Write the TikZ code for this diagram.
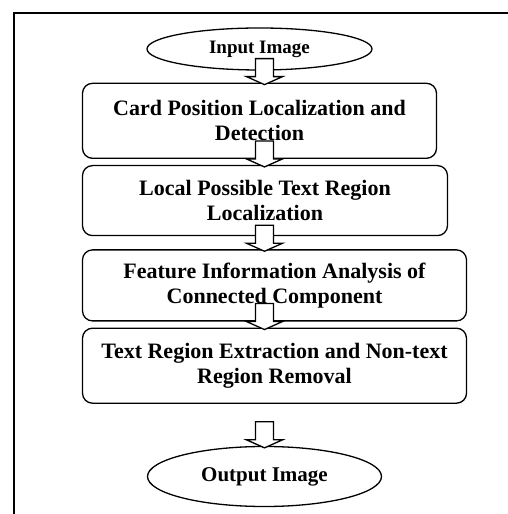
\documentclass[tikz,border=0pt]{standalone}
\usepackage{fontspec}
\setmainfont{Liberation Serif}
\usetikzlibrary{shapes.geometric, positioning, calc}

% hollow block arrow, tip just inside the node it points at
\newcommand{\flowarrow}[1]{%
  \draw[flow] ($(#1.north -| output)+(0,-2)$) coordinate (tip)
    -- ++(18,8) -- ++(-9,0) -- ++(0,18) -- ++(-18,0) -- ++(0,-18) -- ++(-9,0) -- cycle;}

\begin{document}
\begin{tikzpicture}[x=1pt, y=1pt, node distance=6pt,
    stepbox/.style={rectangle, draw, line width=1.3pt, rounded corners=10pt, inner sep=0pt, align=center, font=\fontsize{22}{25}\selectfont\bfseries},
    terminal/.style={ellipse, draw, line width=1.3pt, inner sep=0pt, align=center, font=\bfseries},
    flow/.style={draw, fill=white, line width=1.3pt, line join=miter}
]
\useasboundingbox (0,0) rectangle (508,514);

% outer frame, runs off the page on the right and bottom
\draw[line width=1.3pt] (14,-20) -- (14,501) -- (530,501);

% Flow of steps, top to bottom
\node (input) [terminal, minimum width=225pt, minimum height=42pt, font=\fontsize{19}{22}\selectfont\bfseries] at (259.5,465) {Input Image};
\node (card) [stepbox, minimum width=354pt, minimum height=75pt, below=12pt of input] {Card Position Localization and\\Detection};
\node (loc) [stepbox, minimum width=365pt, minimum height=70pt, below=6pt of card.south west, anchor=north west] {Local Possible Text Region\\Localization};
\node (feat) [stepbox, minimum width=384pt, minimum height=71pt, below=13pt of loc.south west, anchor=north west] {Feature Information Analysis of\\Connected Component};
\node (extract) [stepbox, minimum width=384pt, minimum height=75pt, below=6pt of feat] {Text Region Extraction and Non-text\\Region Removal};
\node (output) [terminal, minimum width=234pt, minimum height=60pt, font=\fontsize{21}{24}\selectfont\bfseries, below=42pt of extract, xshift=-10pt] {Output Image};

% Block arrows between the steps
\flowarrow{card}
\flowarrow{loc}
\flowarrow{feat}
\flowarrow{extract}
\flowarrow{output}

\end{tikzpicture}
\end{document}
